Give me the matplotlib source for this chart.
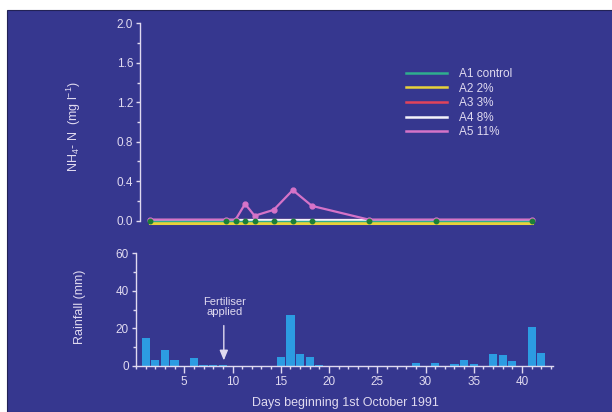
import matplotlib
matplotlib.use("Agg")
import matplotlib.pyplot as plt
from matplotlib.patches import Rectangle
from matplotlib.ticker import MultipleLocator
import numpy as np

# ---------------- data ----------------
sample_days = [1, 9, 10, 11, 12, 14, 16, 18, 24, 31, 41]
a1_control = [0.0, 0.0, 0.0, 0.0, 0.0, 0.0, 0.0, 0.0, 0.0, 0.0, 0.0]
a2_2pct = [-0.025] * 11
a3_3pct = [0.01] * 11
a4_8pct = [0.01] * 11
a5_11pct = [0.01, 0.01, 0.01, 0.17, 0.05, 0.11, 0.31, 0.15, 0.01, 0.01, 0.01]
series_labels = ["A1 control", "A2 2%", "A3 3%", "A4 8%", "A5 11%"]

rain_days = list(range(1, 43))
rainfall = [15, 3.2, 8.5, 3.2, 0, 4.1, 0.3, 0.5, 0.3, 0, 0, 0, 0, 0,
            4.8, 27, 6.4, 4.8, 0.5, 0, 0, 0, 0, 0, 0, 0, 0, 0,
            1.8, 0, 1.5, 0, 1.0, 3.2, 1.0, 0, 6.4, 6.0, 2.8, 0, 20.6, 6.8]

# ---------------- style ----------------
W, H = 612, 412
BG = "#36378f"
FG = "#e0daf0"
plt.rcParams["font.family"] = ["Liberation Sans", "DejaVu Sans"]
plt.rcParams["mathtext.fontset"] = "custom"
plt.rcParams["mathtext.rm"] = "Liberation Sans"
plt.rcParams["mathtext.it"] = "Liberation Sans"

fig = plt.figure(figsize=(W / 100, H / 100), dpi=100, facecolor="white")
fig.patches.append(Rectangle((7 / W, 0), 1, 1 - 10 / H, transform=fig.transFigure,
                             facecolor=BG, edgecolor="#222255", lw=0.8, zorder=-10))


def ax_rect(left, top, right, bottom):
    return [left / W, 1 - bottom / H, (right - left) / W, (bottom - top) / H]


# ---- top axes ----
ylo = -0.06
ax1 = fig.add_axes(ax_rect(140, 23.3, 140 + 43.2 * 9.55, 220.7 - ylo * 98.7))
ax1.set_facecolor("none")
ax1.set_xlim(0, 43.2)
ax1.set_ylim(ylo, 2.0)
for s in ["top", "right", "bottom"]:
    ax1.spines[s].set_visible(False)
ax1.spines["left"].set_bounds(0, 2.0)
ax1.spines["left"].set_color(FG)
ax1.spines["left"].set_linewidth(1.0)
ax1.set_xticks([])
ax1.yaxis.set_major_locator(MultipleLocator(0.4))
ax1.yaxis.set_minor_locator(MultipleLocator(0.2))
ax1.tick_params(axis="y", which="major", length=3, width=1, color=FG, labelcolor=FG,
                labelsize=8.5, pad=2)
ax1.tick_params(axis="y", which="minor", length=2, width=1, color=FG)
ax1.yaxis.set_major_formatter(matplotlib.ticker.FormatStrFormatter("%.1f"))

colors = ["#2fae8e", "#e8d23a", "#e2435a", "#f4f2fa", "#d573c8"]
lw = 1.6
ax1.plot(sample_days, a2_2pct, color=colors[1], lw=lw + 0.6, zorder=2)
ax1.plot(sample_days, a3_3pct, color=colors[2], lw=lw, zorder=3)
ax1.plot(sample_days, a4_8pct, color=colors[3], lw=lw, zorder=4)
ax1.plot(sample_days, a5_11pct, color=colors[4], lw=lw, marker="o", ms=3.5, zorder=5)
ax1.plot(sample_days, a1_control, color=colors[0], lw=1.0, marker="o", ms=3.2,
         mfc="#1c7f38", mec="#1c7f38", zorder=6)

handles = [plt.Line2D([], [], color=c, lw=1.8) for c in colors]
leg = ax1.legend(handles, series_labels, loc="upper left",
                 bbox_to_anchor=(406 / W, 1 - 68 / H), bbox_transform=fig.transFigure,
                 frameon=False, fontsize=8.5, handlelength=3.5, handletextpad=0.95,
                 labelspacing=0.22, borderpad=0, borderaxespad=0)
for t in leg.get_texts():
    t.set_color(FG)

ax1.set_ylabel(r"NH$_4$- N  (mg l$^{-1}$)", color=FG, fontsize=9, va="center")
ax1.yaxis.set_label_coords(74 / W, 1 - 127 / H, transform=fig.transFigure)

# ---- bottom axes ----
ax2 = fig.add_axes(ax_rect(136, 253.3, 136 + 43.2 * 9.65, 366))
ax2.set_facecolor("none")
ax2.set_xlim(0, 43.2)
ax2.set_ylim(0, 60)
for s in ["top", "right"]:
    ax2.spines[s].set_visible(False)
for s in ["left", "bottom"]:
    ax2.spines[s].set_color(FG)
    ax2.spines[s].set_linewidth(1.0)
ax2.bar(rain_days, rainfall, width=0.86, color="#2c9ce2", zorder=2)
ax2.xaxis.set_major_locator(MultipleLocator(5))
ax2.xaxis.set_minor_locator(MultipleLocator(1))
ax2.yaxis.set_major_locator(MultipleLocator(20))
ax2.yaxis.set_minor_locator(MultipleLocator(10))
ax2.set_xticks([5, 10, 15, 20, 25, 30, 35, 40])
ax2.tick_params(axis="x", which="major", length=5, width=1, color=FG, labelcolor=FG,
                labelsize=8.5, pad=2)
ax2.tick_params(axis="x", which="minor", length=2.5, width=1, color=FG)
ax2.tick_params(axis="y", which="major", length=3, width=1, color=FG, labelcolor=FG,
                labelsize=8.5, pad=2)
ax2.tick_params(axis="y", which="minor", length=2, width=1, color=FG)

ax2.set_ylabel("Rainfall (mm)", color=FG, fontsize=9, va="center")
ax2.yaxis.set_label_coords(80 / W, 1 - 307 / H, transform=fig.transFigure)
ax2.set_xlabel("Days beginning 1st October 1991", color=FG, fontsize=9, va="center")
ax2.xaxis.set_label_coords(345 / W, 1 - 403 / H, transform=fig.transFigure)

ax2.annotate("", xy=(9.1, 1.5), xytext=(9.1, 23),
             arrowprops=dict(arrowstyle="-|>,head_length=0.6,head_width=0.25",
                             color=FG, lw=1.0))
ax2.text(9.2, 31.5, "Fertiliser\napplied", color=FG, fontsize=8, ha="center",
         va="center", linespacing=1.0)

fig.savefig("out.png", dpi=100, facecolor=fig.get_facecolor())
